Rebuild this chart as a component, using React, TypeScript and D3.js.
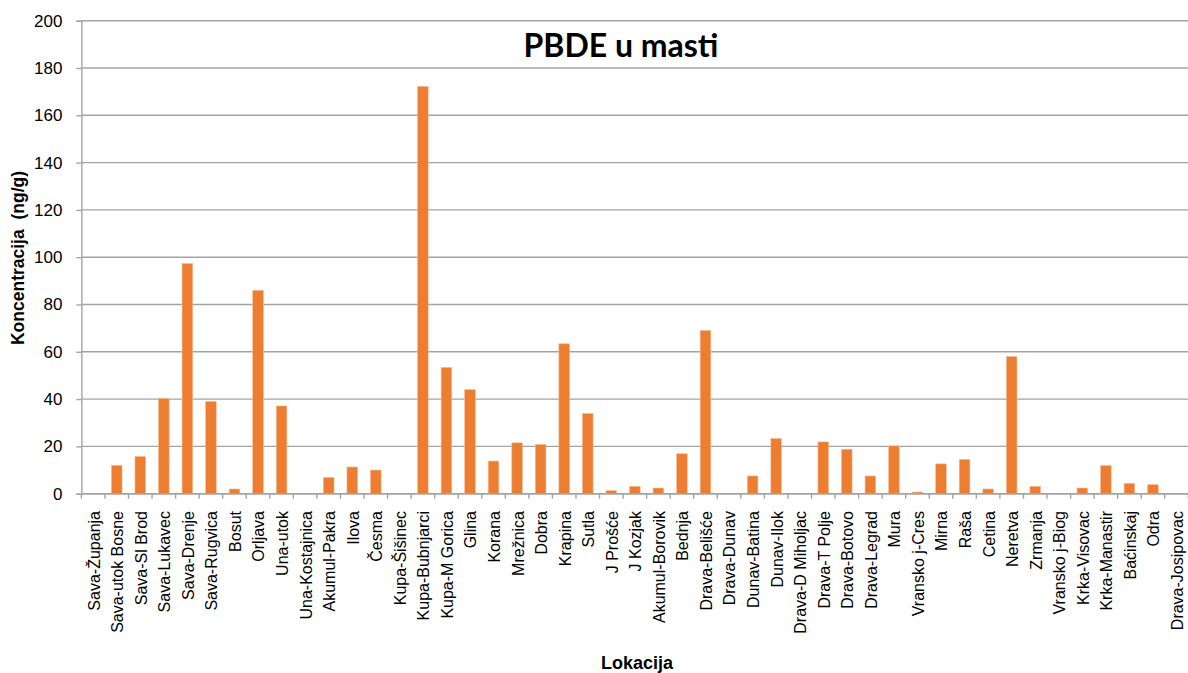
import React from 'react';
import { select, scaleBand, scaleLinear, axisLeft } from 'd3';

const categories = [
  'Sava-Županja', 'Sava-utok Bosne', 'Sava-Sl Brod', 'Sava-Lukavec', 'Sava-Drenje',
  'Sava-Rugvica', 'Bosut', 'Orljava', 'Una-utok', 'Una-Kostajnica', 'Akumul-Pakra',
  'Ilova', 'Česma', 'Kupa-Šišinec', 'Kupa-Bubnjarci', 'Kupa-M Gorica', 'Glina',
  'Korana', 'Mrežnica', 'Dobra', 'Krapina', 'Sutla', 'J Prošće', 'J Kozjak',
  'Akumul-Borovik', 'Bednja', 'Drava-Belišće', 'Drava-Dunav', 'Dunav-Batina',
  'Dunav-Ilok', 'Drava-D Miholjac', 'Drava-T Polje', 'Drava-Botovo', 'Drava-Legrad',
  'Mura', 'Vransko j-Cres', 'Mirna', 'Raša', 'Cetina', 'Neretva', 'Zrmanja',
  'Vransko j-Biog', 'Krka-Visovac', 'Krka-Manastir', 'Baćinskaj', 'Odra',
  'Drava-Josipovac',
];

const pbde = [
  0, 12, 15.7, 40.3, 97.3, 39, 2, 86, 37.1, 0, 6.9,
  11.3, 10, 0, 172.2, 53.4, 44,
  13.8, 21.5, 20.8, 63.4, 33.9, 1.3, 3.1,
  2.4, 16.9, 69, 0, 7.5,
  23.3, 0, 21.9, 18.8, 7.5,
  20.2, 0.7, 12.6, 14.5, 2, 58, 3.1,
  0, 2.4, 11.9, 4.4, 3.8,
  0,
];

const yTicks = [0, 20, 40, 60, 80, 100, 120, 140, 160, 180, 200];

const W = 1188;
const H = 673;
const left = 81.4;
const right = 1188.3;
const top = 20.7;
const bottom = 493.7;
const gridColor = '#a3a3a3';
const font = '"Liberation Sans", Arial, sans-serif';

const App = () => {
  const svgRef = React.useRef<SVGSVGElement>(null);

  React.useEffect(() => {
    const svg = select(svgRef.current);
    svg.selectAll('*').remove();

    const x = scaleBand<string>()
      .domain(categories)
      .range([left, right])
      .paddingInner(0.55)
      .paddingOuter(0.275);

    const y = scaleLinear().domain([0, 200]).range([bottom, top]);

    // grid
    svg
      .append('g')
      .selectAll('line')
      .data(yTicks)
      .join('line')
      .attr('x1', left)
      .attr('x2', right)
      .attr('y1', (d) => y(d))
      .attr('y2', (d) => y(d))
      .attr('stroke', gridColor)
      .attr('stroke-width', 1.4);

    // y axis
    const yAxis = axisLeft(y).tickValues(yTicks).tickSize(5).tickPadding(14);
    const gy = svg.append('g').attr('transform', `translate(${left},0)`);
    // @ts-ignore
    gy.call(yAxis);
    gy.select('.domain').attr('stroke', gridColor).attr('stroke-width', 1.4);
    gy.selectAll('.tick line').attr('stroke', gridColor).attr('stroke-width', 1.4);
    gy.selectAll('.tick text')
      .attr('font-family', font)
      .attr('font-size', 17)
      .attr('fill', '#000');

    // bars
    svg
      .append('g')
      .selectAll('rect')
      .data(pbde)
      .join('rect')
      .attr('x', (d, i) => x(categories[i]) as number)
      .attr('width', x.bandwidth())
      .attr('y', (d) => y(d))
      .attr('height', (d) => bottom - y(d))
      .attr('fill', '#ed7d31')
      .attr('stroke', '#f6b990')
      .attr('stroke-width', 0.6);

    // x axis line + boundary ticks
    svg
      .append('line')
      .attr('x1', left)
      .attr('x2', right)
      .attr('y1', bottom)
      .attr('y2', bottom)
      .attr('stroke', gridColor)
      .attr('stroke-width', 1.4);

    svg
      .append('g')
      .selectAll('line')
      .data(categories.map((c, i) => i).concat([categories.length]))
      .join('line')
      .attr('x1', (i) => left + i * x.step())
      .attr('x2', (i) => left + i * x.step())
      .attr('y1', bottom)
      .attr('y2', bottom + 5)
      .attr('stroke', gridColor)
      .attr('stroke-width', 1.4);

    // category labels
    svg
      .append('g')
      .selectAll('text')
      .data(categories)
      .join('text')
      .attr(
        'transform',
        (d) => `translate(${(x(d) as number) + x.bandwidth() / 2},511) rotate(-90)`
      )
      .attr('dy', '0.4em')
      .attr('text-anchor', 'end')
      .attr('font-family', font)
      .attr('font-size', 16)
      .attr('fill', '#000')
      .text((d) => d);
  }, []);

  return (
    <div style={{ position: 'absolute', left: 0, top: 0 }}>
      <svg ref={svgRef} width={W} height={H} />
      <svg
        width={W}
        height={H}
        style={{ position: 'absolute', left: 0, top: 0, pointerEvents: 'none' }}
      >
        <text
          x={621}
          y={57}
          textAnchor='middle'
          fontFamily='Lato, "Open Sans", sans-serif'
          fontWeight='bold'
          fontSize={32}
          fill='#000'
        >
          PBDE u masti
        </text>
        <text
          x={637}
          y={669}
          textAnchor='middle'
          fontFamily={font}
          fontWeight='bold'
          fontSize={18}
          fill='#000'
        >
          Lokacija
        </text>
        <text
          transform='translate(24,258) rotate(-90)'
          textAnchor='middle'
          fontFamily={font}
          fontWeight='bold'
          fontSize={17.5}
          fill='#000'
          style={{ whiteSpace: 'pre' }}
        >
          {'Koncentracija  (ng/g)'}
        </text>
      </svg>
    </div>
  );
};

export default App;
